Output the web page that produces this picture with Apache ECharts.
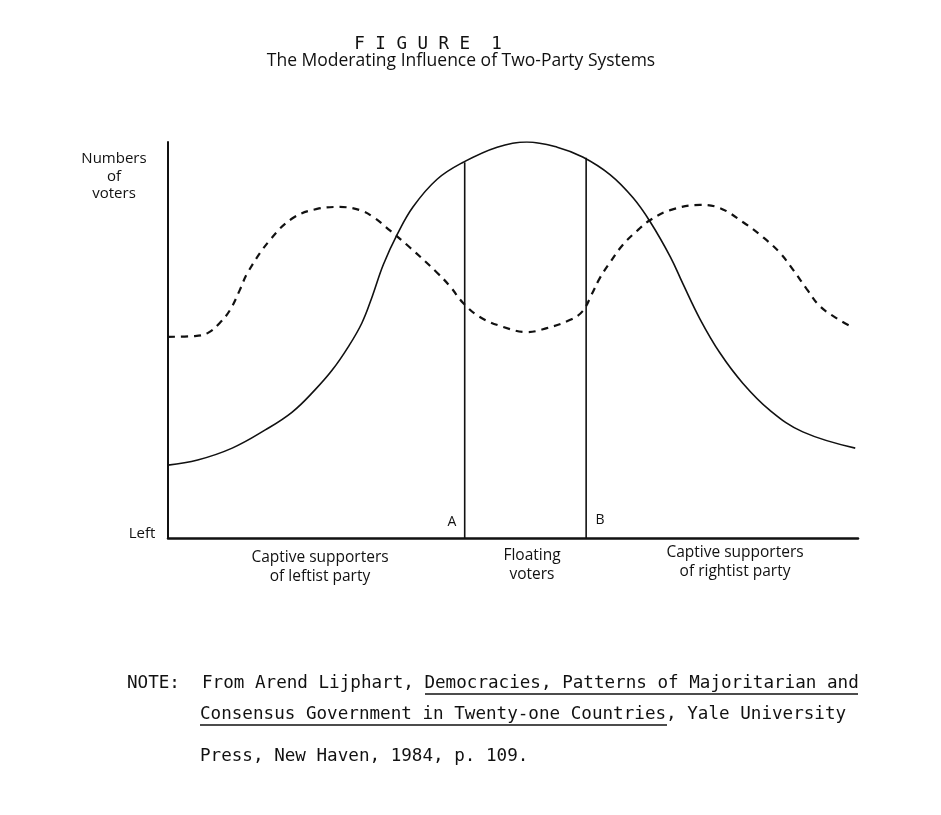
<!DOCTYPE html>
<html>
<head>
<meta charset="utf-8">
<script src="https://cdn.jsdelivr.net/npm/echarts@6/dist/echarts.min.js"></script>
<style>html,body{margin:0;padding:0;background:#fff}#c{width:941px;height:815px}</style>
</head>
<body>
<div id="c"></div>
<script>
// Position along left-right scale (0 = Left, 100 = Right)
const solidX = [0, 4.3, 9.3, 14.1, 18.0, 21.3, 23.8, 26.1, 28.1, 29.6, 31.2, 33.2, 35.5, 39.0, 42.8, 47.7, 52.0, 56.4, 60.1, 64.1, 67.4, 69.9, 72.8, 74.6, 77.1, 80.0, 83.3, 87.2, 92.0, 99.6];
const solidY = [18.4, 19.7, 22.7, 27.3, 31.8, 37.4, 42.4, 48.2, 54.3, 61.0, 69.0, 76.6, 83.6, 90.6, 94.9, 98.7, 100, 98.7, 96.2, 91.7, 85.9, 79.8, 71.0, 64.3, 55.3, 46.7, 39.1, 32.3, 26.8, 22.7];
const dashedX = [0, 3.9, 5.8, 7.5, 9.0, 10.4, 11.6, 14.8, 18.1, 21.6, 24.9, 27.8, 29.7, 32.2, 35.1, 39.0, 40.9, 42.8, 45.2, 48.6, 52.0, 54.9, 58.3, 60.1, 61.4, 62.6, 64.1, 65.9, 68.0, 69.9, 72.8, 77.1, 80.0, 83.3, 86.2, 88.7, 90.6, 92.6, 94.5, 97.0, 99.1];
const dashedY = [50.8, 51.0, 51.8, 54.3, 57.6, 62.6, 67.2, 75.3, 80.8, 83.1, 83.6, 82.8, 81.1, 77.6, 73.3, 67.0, 63.5, 59.3, 55.8, 53.3, 52.0, 53.0, 55.1, 57.3, 61.5, 65.7, 69.7, 74.0, 77.6, 80.3, 82.8, 84.1, 83.3, 79.8, 76.0, 72.0, 67.7, 62.8, 58.5, 55.4, 53.3];
// Dividing lines A and B: [x, top]
const dividerA = [43.0, 94.9];
const dividerB = [60.6, 96.0];
const dividerLabels = ['A', 'B'];
const yAxisLabel = ['Numbers', 'of', 'voters'];
const xAxisLabel = 'Left';
const groupLabels = [['Captive supporters', 'of leftist party'], ['Floating', 'voters'], ['Captive supporters', 'of rightist party']];
const titleText = 'F I G U R E  1';
const subtitleText = 'The Moderating Influence of Two-Party Systems';
const noteLines = ['From Arend Lijphart, Democracies, Patterns of Majoritarian and', 'Consensus Government in Twenty-one Countries, Yale University', 'Press, New Haven, 1984, p. 109.'];

const zip = (xs, ys) => xs.map((x, i) => [x, ys[i]]);
const sans = '"Open Sans", sans-serif';
const mono = '"DejaVu Sans Mono", monospace';
const txt = (x, y, text, size, font, align) => ({
  type: 'text', x: x, y: y,
  style: { text: text, fill: '#111', font: size + 'px ' + font, textAlign: align || 'center', textVerticalAlign: 'middle' }
});
const uline = (x1, x2, y) => ({ type: 'line', shape: { x1: x1, y1: y, x2: x2, y2: y }, style: { stroke: '#111', lineWidth: 1.5 } });

const chart = echarts.init(document.getElementById('c'));
chart.setOption({
  backgroundColor: '#fff',
  animation: false,
  grid: { left: 168, right: 83, top: 142, bottom: 277 },
  xAxis: { type: 'value', min: 0, max: 100, axisLine: { show: true, lineStyle: { color: '#111', width: 2.5 } }, axisTick: { show: false }, axisLabel: { show: false }, splitLine: { show: false } },
  yAxis: { type: 'value', min: 0, max: 100, axisLine: { show: true, lineStyle: { color: '#111', width: 2 } }, axisTick: { show: false }, axisLabel: { show: false }, splitLine: { show: false } },
  series: [
    { type: 'line', data: zip(solidX, solidY), smooth: 0.4, showSymbol: false, lineStyle: { color: '#111', width: 1.6 } },
    { type: 'line', data: zip(dashedX, dashedY), smooth: 0.4, showSymbol: false, lineStyle: { color: '#111', width: 2.2, type: [7, 6] } },
    { type: 'line', data: [[dividerA[0], 0], [dividerA[0], dividerA[1]]], showSymbol: false, lineStyle: { color: '#111', width: 1.6 } },
    { type: 'line', data: [[dividerB[0], 0], [dividerB[0], dividerB[1]]], showSymbol: false, lineStyle: { color: '#111', width: 1.6 } }
  ],
  graphic: [
    txt(428, 44, titleText, 17.5, mono),
    txt(461, 61, subtitleText, 17.5, sans),
    txt(114, 159, yAxisLabel[0], 15, sans),
    txt(114, 177, yAxisLabel[1], 15, sans),
    txt(114, 194, yAxisLabel[2], 15, sans),
    txt(142, 534, xAxisLabel, 15, sans),
    txt(452, 522, dividerLabels[0], 14, sans),
    txt(600, 520, dividerLabels[1], 14, sans),
    txt(320, 558, groupLabels[0][0], 15.5, sans),
    txt(320, 577, groupLabels[0][1], 15.5, sans),
    txt(532, 556, groupLabels[1][0], 15.5, sans),
    txt(532, 575, groupLabels[1][1], 15.5, sans),
    txt(735, 553, groupLabels[2][0], 15.5, sans),
    txt(735, 572, groupLabels[2][1], 15.5, sans),
    txt(127, 683, 'NOTE:', 17.6, mono, 'left'),
    txt(202, 683, noteLines[0], 17.6, mono, 'left'),
    txt(200, 714, noteLines[1], 17.6, mono, 'left'),
    txt(200, 756, noteLines[2], 17.6, mono, 'left'),
    uline(425, 858, 694),
    uline(200, 667, 725)
  ]
});
</script>
</body>
</html>
